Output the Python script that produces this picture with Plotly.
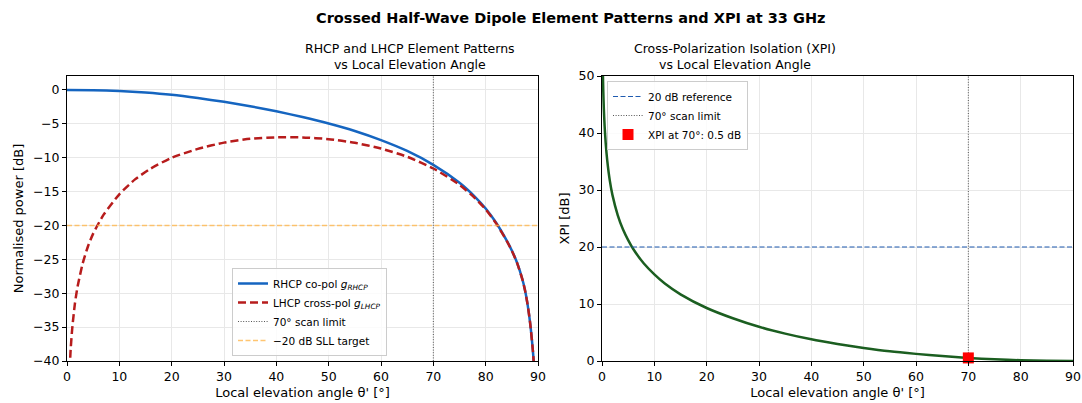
import plotly.graph_objects as go

# ---------------- data ----------------
theta_rhcp = [0, 5, 10, 15, 20, 25, 30, 35, 40, 45, 50, 55, 60, 65, 70, 75, 78, 80,
              82, 84, 85, 86, 87, 87.5, 88, 88.5, 89, 89.3]
g_rhcp_db = [0, -0.04, -0.15, -0.38, -0.72, -1.2, -1.75, -2.4, -3.15, -4.0, -4.95, -6.05,
             -7.4, -9.0, -11.05, -13.7, -15.8, -17.5, -19.6, -22.2, -23.7, -25.5, -27.9,
             -29.5, -31.6, -34.4, -38.3, -41.5]

theta_lhcp = [0.4, 0.7, 1, 1.5, 2, 3, 4, 5, 7, 10, 13, 16, 20, 25, 30, 35, 40, 45, 50,
              55, 60, 65, 70, 75, 78, 80, 82, 84, 85, 86, 87, 87.5, 88, 88.5, 89, 89.3]
g_lhcp_db = [-43.1, -38.3, -35.2, -31.6, -29.1, -25.6, -23.1, -21.2, -18.4, -15.4,
             -13.2, -11.6, -10.0, -8.7, -7.77, -7.2, -6.99, -7.0, -7.26, -7.8, -8.65,
             -9.86, -11.59, -14.0, -15.99, -17.63, -19.69, -22.25, -23.73, -25.52, -27.91,
             -29.51, -31.6, -34.4, -38.3, -41.5]

theta_xpi = [0.18, 0.25, 0.35, 0.5, 0.7, 1, 1.5, 2, 3, 4, 5, 6, 8, 10, 12, 15, 20, 25,
             30, 35, 40, 45, 50, 55, 60, 65, 70, 75, 80, 85, 90]
xpi_db = [50.0, 47.2, 44.3, 41.2, 38.3, 35.2, 31.6, 29.1, 25.6, 23.1, 21.2, 19.6, 17.1,
          15.2, 13.6, 11.7, 9.3, 7.5, 6.0, 4.8, 3.8, 3.0, 2.3, 1.7, 1.25, 0.86, 0.54,
          0.30, 0.13, 0.03, 0.0]

SCAN_LIMIT = 70
XPI_AT_SCAN = 0.54
SLL_TARGET = -20
XPI_REF = 20

X_RANGE = [0, 90]
Y1_RANGE = [-40, 2.06]
Y2_RANGE = [0, 50]
X_TICKS = [0, 10, 20, 30, 40, 50, 60, 70, 80, 90]
Y1_TICKS = [0, -5, -10, -15, -20, -25, -30, -35, -40]
Y2_TICKS = [0, 10, 20, 30, 40, 50]

# ---------------- figure ----------------
FONT = "DejaVu Sans"
W, H = 1082, 403
ML, MR, MT, MB = 67, 9, 76, 42
PW = W - ML - MR
PH = H - MT - MB
d1 = [0, (538 - ML) / PW]
d2 = [(602 - ML) / PW, 1]

fig = go.Figure()

# left panel
fig.add_trace(go.Scatter(x=theta_rhcp, y=g_rhcp_db, mode="lines",
                         line=dict(color="#1565c0", width=2.5, shape="spline", smoothing=0.6),
                         name="RHCP co-pol <i>g<sub>RHCP</sub></i>",
                         xaxis="x", yaxis="y", legend="legend"))
fig.add_trace(go.Scatter(x=theta_lhcp, y=g_lhcp_db, mode="lines",
                         line=dict(color="#b71c1c", width=2.5, dash="8px,4px",
                                   shape="spline", smoothing=0.6),
                         name="LHCP cross-pol <i>g<sub>LHCP</sub></i>",
                         xaxis="x", yaxis="y", legend="legend"))
fig.add_trace(go.Scatter(x=[SCAN_LIMIT, SCAN_LIMIT], y=Y1_RANGE, mode="lines",
                         line=dict(color="#555555", width=1, dash="1px,1.6px"),
                         name="70° scan limit", xaxis="x", yaxis="y", legend="legend"))
fig.add_trace(go.Scatter(x=X_RANGE, y=[SLL_TARGET, SLL_TARGET], mode="lines",
                         line=dict(color="rgba(255,183,77,0.8)", width=1.3, dash="5px,2.5px"),
                         name="\u221220 dB SLL target", xaxis="x", yaxis="y", legend="legend"))

# right panel
fig.add_trace(go.Scatter(x=theta_xpi, y=xpi_db, mode="lines",
                         line=dict(color="#1b5e20", width=2.5, shape="spline", smoothing=0.6),
                         name="XPI", showlegend=False, xaxis="x2", yaxis="y2"))
fig.add_trace(go.Scatter(x=X_RANGE, y=[XPI_REF, XPI_REF], mode="lines",
                         line=dict(color="#1f5bb0", width=1.2, dash="5px,2.5px"),
                         name="20 dB reference", xaxis="x2", yaxis="y2", legend="legend2"))
fig.add_trace(go.Scatter(x=[SCAN_LIMIT, SCAN_LIMIT], y=Y2_RANGE, mode="lines",
                         line=dict(color="#555555", width=1, dash="1px,1.6px"),
                         name="70° scan limit", xaxis="x2", yaxis="y2", legend="legend2"))
fig.add_trace(go.Scatter(x=[SCAN_LIMIT], y=[XPI_AT_SCAN], mode="markers",
                         marker=dict(color="#ff0000", size=11, symbol="square"),
                         name=f"XPI at {SCAN_LIMIT}°: {XPI_AT_SCAN:.1f} dB",
                         xaxis="x2", yaxis="y2", legend="legend2", cliponaxis=False))

axis_common = dict(showline=True, linecolor="#000000", linewidth=1, mirror=True,
                   ticks="outside", ticklen=4, tickcolor="#000000", automargin=False,
                   showgrid=True, gridcolor="#e8e8e8", gridwidth=1, zeroline=False,
                   tickfont=dict(family=FONT, size=12.5, color="#000000"))

xtitle = dict(text="Local elevation angle \u03b8' [°]",
              font=dict(family=FONT, size=13, color="#000000"), standoff=4)

legend_common = dict(bgcolor="rgba(255,255,255,0.8)", bordercolor="#cccccc", borderwidth=1,
                     font=dict(family=FONT, size=10.5, color="#000000"),
                     tracegroupgap=0, itemwidth=30)

fig.update_layout(
    width=W, height=H,
    margin=dict(l=ML, r=MR, t=MT, b=MB, autoexpand=False),
    paper_bgcolor="#ffffff", plot_bgcolor="#ffffff",
    font=dict(family=FONT, color="#000000"),
    showlegend=True,
    xaxis=dict(domain=d1, range=X_RANGE, tickvals=X_TICKS, title=xtitle,
               anchor="y", **axis_common),
    yaxis=dict(domain=[0, 1], range=Y1_RANGE, tickvals=Y1_TICKS, anchor="x",
               title=dict(text="Normalised power [dB]",
                          font=dict(family=FONT, size=13, color="#000000"), standoff=6),
               **axis_common),
    xaxis2=dict(domain=d2, range=X_RANGE, tickvals=X_TICKS, title=xtitle,
                anchor="y2", **axis_common),
    yaxis2=dict(domain=[0, 1], range=Y2_RANGE, tickvals=Y2_TICKS, anchor="x2",
                title=dict(text="XPI [dB]",
                           font=dict(family=FONT, size=13, color="#000000"), standoff=6),
                **axis_common),
    legend=dict(x=(232 - ML) / PW, y=(361 - 356) / PH, xanchor="left",
                yanchor="bottom", **legend_common),
    legend2=dict(x=(607 - ML) / PW, y=1 - (81 - MT) / PH, xanchor="left",
                 yanchor="top", **legend_common),
    annotations=[
        dict(text="<b>Crossed Half-Wave Dipole Element Patterns and XPI at 33 GHz</b>",
             x=0.5, xref="paper", y=1 + (MT - 18) / PH, yref="paper", yanchor="middle",
             showarrow=False, font=dict(family=FONT, size=14.5, color="#000000")),
        dict(text="RHCP and LHCP Element Patterns<br>vs Local Elevation Angle",
             x=(d1[0] + d1[1]) / 2, xref="paper", y=1, yref="paper",
             yanchor="bottom", yshift=2, showarrow=False,
             font=dict(family=FONT, size=12.5, color="#000000")),
        dict(text="Cross-Polarization Isolation (XPI)<br>vs Local Elevation Angle",
             x=(d2[0] + d2[1]) / 2, xref="paper", y=1, yref="paper",
             yanchor="bottom", yshift=2, showarrow=False,
             font=dict(family=FONT, size=12.5, color="#000000")),
    ],
)

fig.write_html("out.html", config={"displayModeBar": False},
               post_script="document.body.style.margin='0';document.body.style.overflow='hidden';")
